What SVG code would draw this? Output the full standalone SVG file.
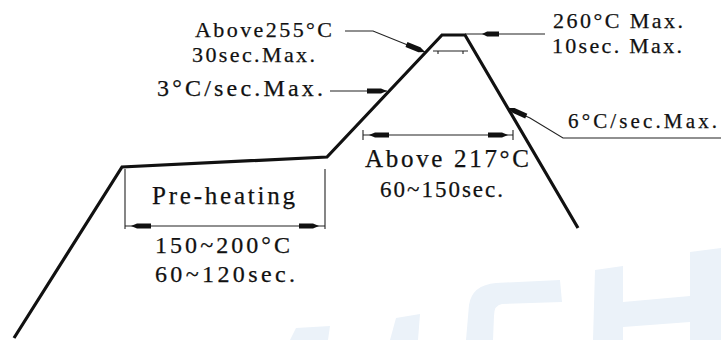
<svg xmlns="http://www.w3.org/2000/svg" width="721" height="340" viewBox="0 0 721 340">
<style>
.t{font-family:"Liberation Serif",serif;fill:#111;stroke:#111;stroke-width:0.25}
.prof{fill:none;stroke:#111;stroke-width:3.2;stroke-linejoin:miter}
.thin{fill:none;stroke:#222;stroke-width:1.1}
.wm{fill:#ebf2f9}
</style>
<defs>
<path id="arr" d="M0,0 L6,-2.6 L20,-2.6 L20,2.6 L6,2.6 Z" fill="#111"/>
</defs>
<rect width="721" height="340" fill="#fff"/>
<g id="watermark">
<polygon class="wm" points="290,340 296,328 330,326 328,340"/>
<polygon class="wm" points="390,340 396,318 420,314 418,340"/>
<path class="wm" d="M466,340 L469,305 Q472,285 496,283 L560,280 L562,302 L502,304 Q494,305 494,316 L493,340 Z"/>
<polygon class="wm" points="593,340 595,270 623,266 623,340"/>
<polygon class="wm" points="623,302 690,296 690,322 623,327"/>
<polygon class="wm" points="690,340 690,252 721,248 721,340"/>
</g>
<g id="profile">
<polyline class="prof" points="14,338 122,167 327,157 442,35 465,35 578,228"/>
</g>
<g id="connectors">
<line class="thin" x1="125" y1="169" x2="125" y2="229"/>
<line class="thin" x1="325" y1="169" x2="325" y2="229"/>
<line class="thin" x1="125" y1="226" x2="325" y2="226"/>
<use href="#arr" transform="translate(131,226)"/>
<use href="#arr" transform="translate(319,226) rotate(180)"/>
<line class="thin" x1="363" y1="130" x2="363" y2="140"/>
<line class="thin" x1="513" y1="130" x2="513" y2="140"/>
<line class="thin" x1="363" y1="135" x2="513" y2="135"/>
<use href="#arr" transform="translate(369,135)"/>
<use href="#arr" transform="translate(508,135) rotate(180)"/>
<line class="thin" x1="433" y1="51" x2="468" y2="51"/>
<line class="thin" x1="438" y1="51" x2="438" y2="54"/>
<line class="thin" x1="463" y1="51" x2="463" y2="54"/>
<polyline class="thin" points="345,31 373,31 425,52"/>
<use href="#arr" transform="translate(425,52) rotate(202)"/>
<line class="thin" x1="330" y1="91" x2="387" y2="91"/>
<use href="#arr" transform="translate(387,91) rotate(180)"/>
<line class="thin" x1="465" y1="34" x2="545" y2="34"/>
<use href="#arr" transform="translate(482,34) scale(0.85,1)"/>
<polyline class="thin" points="721,138 563,138 530,118 508,108"/>
<use href="#arr" transform="translate(508,108) rotate(24)"/>
</g>
<g id="labels">
<text class="t" x="195" y="37" font-size="22" textLength="137" lengthAdjust="spacing">Above255°C</text>
<text class="t" x="192" y="62" font-size="22" textLength="123" lengthAdjust="spacing">30sec.Max.</text>
<text class="t" x="157" y="96" font-size="24" textLength="166" lengthAdjust="spacing">3°C/sec.Max.</text>
<text class="t" x="553" y="28" font-size="22" textLength="130" lengthAdjust="spacing">260°C  Max.</text>
<text class="t" x="552" y="53" font-size="22" textLength="130" lengthAdjust="spacing">10sec. Max.</text>
<text class="t" x="568" y="128" font-size="21" textLength="149" lengthAdjust="spacing">6°C/sec.Max.</text>
<text class="t" x="365" y="167" font-size="25" textLength="164" lengthAdjust="spacing">Above 217°C</text>
<text class="t" x="380" y="197" font-size="23" textLength="123" lengthAdjust="spacing">60~150sec.</text>
<text class="t" x="152" y="204" font-size="25" textLength="143" lengthAdjust="spacing">Pre-heating</text>
<text class="t" x="155" y="253" font-size="24" textLength="135" lengthAdjust="spacing">150~200°C</text>
<text class="t" x="155" y="282" font-size="24" textLength="140" lengthAdjust="spacing">60~120sec.</text>
</g>
</svg>
